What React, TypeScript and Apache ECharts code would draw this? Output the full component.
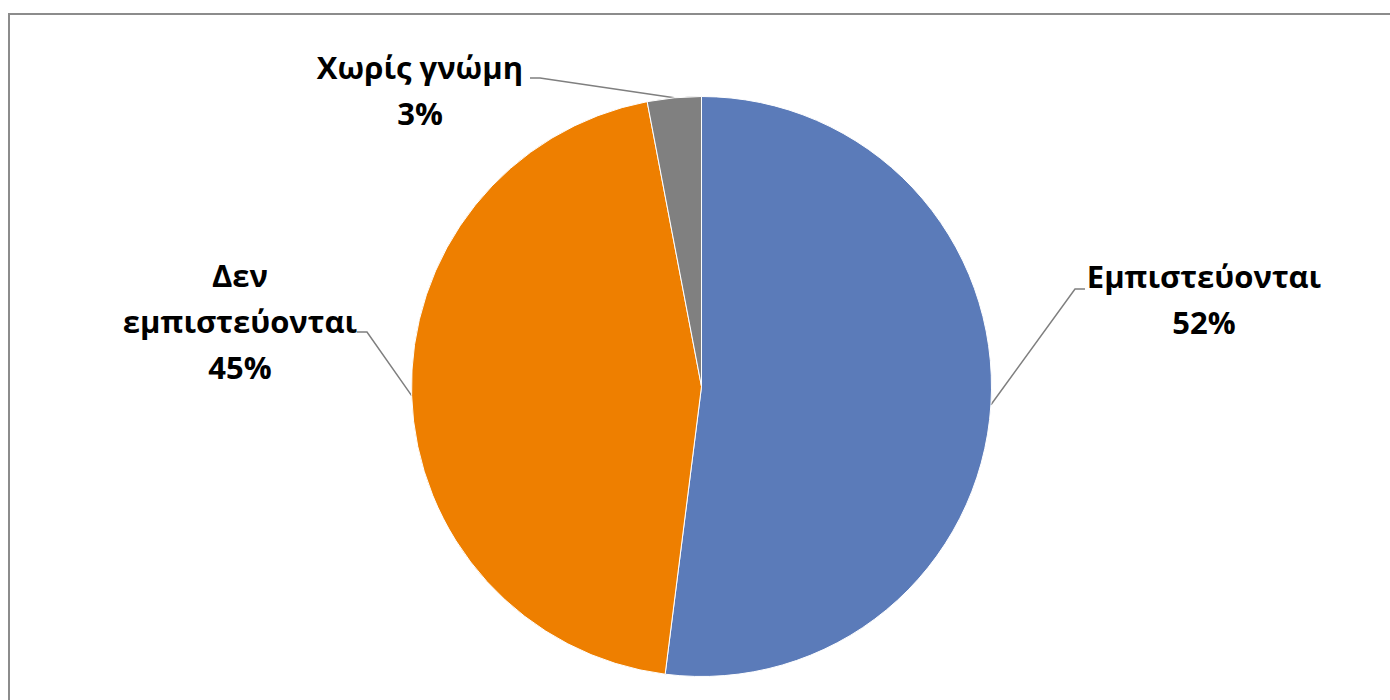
import React, { useEffect, useRef } from "react";
import * as echarts from "echarts";

const categories = ["Εμπιστεύονται", "Δεν εμπιστεύονται", "Χωρίς γνώμη"];
const labelNames = ["Εμπιστεύονται", "Δεν\nεμπιστεύονται", "Χωρίς γνώμη"];
const values = [52, 45, 3];
const colors = ["#5B7BB9", "#EE7F00", "#808080"];

// label placement (centre of label block) and leader-line bend/end points
const labelPos = [
  { x: 1204, y: 299, bend: [1075, 289], end: [1085, 289] },
  { x: 240, y: 321, bend: [367, 332], end: [357, 332] },
  { x: 420, y: 90, bend: [540, 78], end: [530, 78] },
];

export default function App() {
  const ref = useRef<HTMLDivElement>(null);
  useEffect(() => {
    if (!ref.current) return;
    const chart = echarts.init(ref.current, null, { renderer: "svg" });
    chart.setOption({
      animation: false,
      backgroundColor: "#ffffff",
      graphic: [
        {
          type: "rect",
          shape: { x: 9, y: 14, width: 1500, height: 800 },
          style: { fill: "none", stroke: "#8C8C8C", lineWidth: 2 },
          silent: true,
        },
      ],
      series: [
        {
          type: "pie",
          center: [701.5, 386.5],
          radius: 290,
          startAngle: 90,
          clockwise: true,
          percentPrecision: 0,
          avoidLabelOverlap: false,
          itemStyle: { borderColor: "#ffffff", borderWidth: 1 },
          label: {
            show: true,
            position: "outside",
            fontFamily: "Open Sans",
            fontWeight: "bold",
            fontSize: 31,
            lineHeight: 46,
            color: "#000000",
            align: "center",
            formatter: (p: any) => `${labelNames[p.dataIndex]}\n${p.percent}%`,
          },
          labelLine: {
            show: true,
            lineStyle: { color: "#7F7F7F", width: 1.5 },
          },
          labelLayout: (params: any) => {
            const lp = labelPos[params.dataIndex];
            const pts = params.labelLinePoints;
            const p0 = pts && pts[0] ? pts[0] : lp.bend;
            return {
              x: lp.x,
              y: lp.y,
              align: "center",
              verticalAlign: "middle",
              labelLinePoints: [p0, lp.bend, lp.end],
            };
          },
          emphasis: { disabled: true },
          data: categories.map((name, i) => ({
            name,
            value: values[i],
            itemStyle: { color: colors[i] },
          })),
        },
      ],
    });
    return () => chart.dispose();
  }, []);
  return (
    <div
      ref={ref}
      style={{ position: "absolute", left: 0, top: 0, width: 1390, height: 700 }}
    />
  );
}
